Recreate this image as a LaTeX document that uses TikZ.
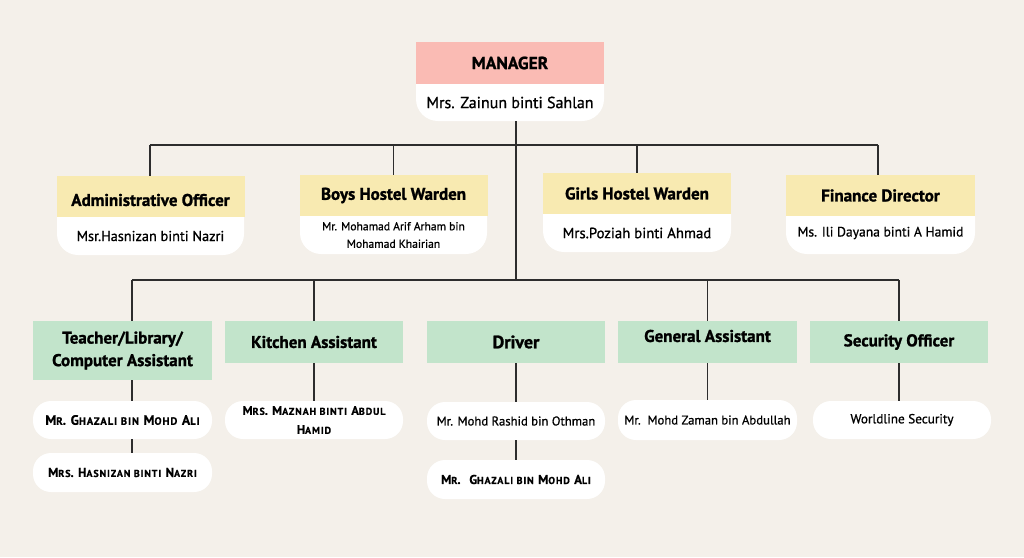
\documentclass[tikz,border=0pt]{standalone}
\usepackage{fontspec}
\setmainfont{PT Sans}
\newfontfamily\namefont[FakeBold=0.9]{PT Sans}
\newfontfamily\titlefont[BoldFeatures={FakeBold=1.3}]{PT Sans}
\newfontfamily\scfont[LetterSpace=9,BoldFeatures={FakeBold=0.6}]{PT Sans}
\usetikzlibrary{calc}
\definecolor{bgc}{RGB}{244,240,234}
\definecolor{pinkh}{RGB}{250,187,180}
\definecolor{yelh}{RGB}{248,234,177}
\definecolor{grnh}{RGB}{194,228,203}
\definecolor{linec}{RGB}{45,45,45}
\newcommand\smk[1]{{\fontsize{10}{12}\selectfont #1}}
\newcommand\tshift[2]{\raisebox{\dimexpr -#1pt - 0.35em\relax}[0pt][0pt]{#2}}
\begin{document}
\begin{tikzpicture}[x=1pt,y=-1pt,
 hdr/.style={rectangle, inner sep=0pt, align=center, font=\fontsize{17}{22.5}\selectfont\titlefont\bfseries},
 pinkbox/.style={hdr, fill=pinkh, minimum width=188pt, minimum height=42pt, font=\fontsize{17.5}{20}\selectfont\titlefont\bfseries},
 yel/.style={hdr, fill=yelh, minimum width=188pt, minimum height=41pt},
 grn/.style={hdr, fill=grnh, minimum width=179pt, minimum height=42pt},
 nm/.style={inner sep=0pt, align=center, minimum width=186pt, font=\fontsize{14.3}{17}\selectfont\namefont},
 pill/.style={nm, fill=white, rounded corners=18pt, minimum width=179pt, minimum height=38pt, font=\fontsize{12.7}{17}\selectfont\namefont},
 scn/.style={pill, font=\fontsize{12.8}{17}\selectfont\scfont\bfseries},
 conn/.style={draw=linec, line width=1.2pt}]
\useasboundingbox (0,0) rectangle (1024,557);
\fill[bgc] (0,0) rectangle (1024,557);
% rounded white lower parts
\fill[white, rounded corners=22pt] (416,62) rectangle (604,121);
\fill[white, rounded corners=21pt] (57,196) rectangle (244,255);
\fill[white, rounded corners=21pt] (300,195) rectangle (487,254);
\fill[white, rounded corners=21pt] (543,193) rectangle (731,252);
\fill[white, rounded corners=21pt] (786,195) rectangle (975,254);
% manager
\node[pinkbox] (M) at (510,63) {MANAGER};
\node[nm, minimum height=37pt, font=\fontsize{16}{20}\selectfont\namefont] (MN) at (510,102.5) {Mrs. Zainun binti Sahlan};
% level 2
\node[yel] (A) at (150.5,196.5) {\tshift{3.5}{Administrative Officer}};
\node[nm, minimum height=38pt] (AN) at (150.5,236) {Msr.Hasnizan binti Nazri};
\node[yel] (B) at (393.5,195.5) {Boys Hostel Warden};
\node[nm, minimum height=38pt, font=\fontsize{11.6}{17.5}\selectfont\namefont] (BN) at (393.5,235) {Mr. Mohamad Arif Arham bin\\Mohamad Khairian};
\node[yel] (Gi) at (637,193.5) {Girls Hostel Warden};
\node[nm, minimum height=38pt, font=\fontsize{14.8}{17}\selectfont\namefont] (GiN) at (637,233) {Mrs.Poziah binti Ahmad};
\node[yel, minimum width=189pt] (F) at (880.5,195.5) {Finance Director};
\node[nm, minimum height=38pt, font=\fontsize{13.6}{17}\selectfont\namefont] (FN) at (880.5,233) {Ms. Ili Dayana binti A Hamid};
% level 3
\node[grn, minimum height=59pt] (T) at (122.5,350.5) {Teacher/Library/\\Computer Assistant};
\node[grn, minimum width=178pt] (K) at (314,342) {Kitchen Assistant};
\node[grn, minimum width=178pt] (D) at (516,342) {\fontsize{18}{20}\selectfont Driver};
\node[grn] (G) at (707.5,342) {\tshift{-6}{General Assistant}};
\node[grn, minimum width=178pt] (S) at (899,342) {Security Officer};
% names
\node[scn, font=\fontsize{13.6}{17}\selectfont\scfont\bfseries] (T1) at (122.5,420) {M{\fontsize{10.6}{12}\selectfont R}. G{\fontsize{10.6}{12}\selectfont HAZALI BIN} M{\fontsize{10.6}{12}\selectfont OHD} A{\fontsize{10.6}{12}\selectfont LI}};
\node[scn, minimum height=39pt] (T2) at (122.5,472.5) {M\smk{RS}. H\smk{ASNIZAN BINTI} N\smk{AZRI}};
\node[scn, minimum width=178pt, font=\fontsize{12.5}{19}\selectfont\scfont\bfseries] (K1) at (314,420) {M\smk{RS}. M\smk{AZNAH BINTI} A\smk{BDUL}\\H\smk{AMID}};
\node[pill, minimum width=178pt] (D1) at (516,421) {Mr. Mohd Rashid bin Othman};
\node[scn, minimum width=178pt, minimum height=39pt] (D2) at (516,479.5) {M\smk{R}.\ \ G\smk{HAZALI BIN} M\smk{OHD} A\smk{LI}};
\node[pill, minimum height=40pt] (G1) at (707.5,420) {Mr.\ \ Mohd Zaman bin Abdullah};
\node[pill, minimum width=178pt, font=\fontsize{13.2}{17}\selectfont\namefont] (S1) at (902,420) {Worldline Security};
% connectors
\coordinate (b1l) at (150,145);
\coordinate (b1r) at (878,145);
\coordinate (b2l) at (132,280);
\coordinate (b2r) at (899,280);
\coordinate (j2) at (516,280);
\draw[conn] (j2 |- MN.south) -- (j2);
\draw[conn] (b1l) -- (b1r);
\draw[conn] (b1l) -- (b1l |- A.north);
\draw[conn] (B.north) -- (B.north |- b1l);
\draw[conn] (Gi.north) -- (Gi.north |- b1l);
\draw[conn] (b1r) -- (b1r |- F.north);
\draw[conn] (b2l) -- (b2r);
\draw[conn] (b2l) -- (b2l |- T.north);
\draw[conn] (b2l |- T.south) -- (b2l |- T1.north);
\draw[conn] (b2l |- T1.south) -- (b2l |- T2.north);
\draw[conn] (K.north |- b2l) -- (K.north);
\draw[conn] (K.south) -- (K1.north);
\draw[conn] (D.south) -- (D1.north);
\draw[conn] (D1.south) -- (D2.north);
\draw[conn] (G.north |- b2l) -- (G.north);
\draw[conn] (G.south) -- (G1.north);
\draw[conn] (b2r) -- (b2r |- S.north);
\draw[conn] (b2r |- S.south) -- (b2r |- S1.north);
\end{tikzpicture}
\end{document}
